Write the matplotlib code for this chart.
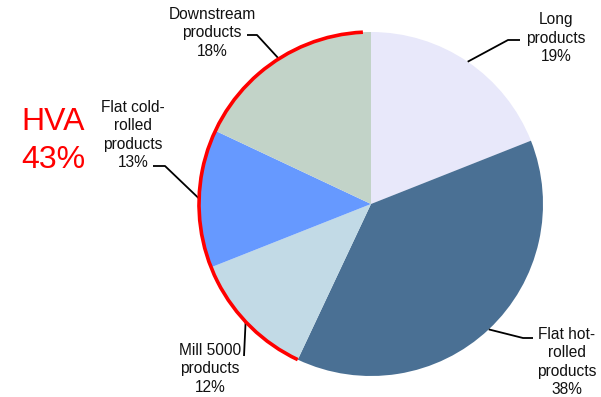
import numpy as np
import matplotlib
matplotlib.use("Agg")
import matplotlib.pyplot as plt
from matplotlib.patches import Arc

plt.rcParams['font.family'] = ['Liberation Sans', 'DejaVu Sans']

# product mix, clockwise from 12 o'clock
labels = ["Long\nproducts", "Flat hot-\nrolled\nproducts", "Mill 5000\nproducts",
          "Flat cold-\nrolled\nproducts", "Downstream\nproducts"]
shares = [19, 38, 12, 13, 18]
colors = ["#E8E8FA", "#4A7094", "#C2DAE6", "#6699FF", "#C2D3C8"]
hva_share = 43  # Mill 5000 + flat cold-rolled + downstream

W, H = 601, 397
cx, cy, R = 371, H - 204, 172

fig = plt.figure(figsize=(W / 100, H / 100), dpi=100)
ax = fig.add_axes([0, 0, 1, 1])
ax.pie(shares, colors=colors, startangle=90, counterclock=False,
       center=(cx, cy), radius=R, wedgeprops=dict(linewidth=0))
ax.set_xlim(0, W)
ax.set_ylim(0, H)
ax.set_aspect("equal")
ax.axis("off")

# red arc around the high value-added segments (counter-clockwise from near top)
end_ang = 90 + hva_share / 100 * 360
ax.add_patch(Arc((cx, cy), 2 * R, 2 * R, theta1=92.7, theta2=end_ang,
                 color="#FF0000", lw=2.6, zorder=5))

# label text anchor (center), elbow and leader end, in pixel coords from top
label_pos = [(556, 38), (567, 362), (210, 369), (133, 135), (212, 33)]
elbows = [((508, 40), (520, 40)), ((523, 338), (533, 338)),
          ((244, 356), (244, 356)), ((165, 166), (153, 166)),
          ((257, 35), (247, 35))]

cum = np.cumsum([0] + shares)
for i, lab in enumerate(labels):
    mid = 90 - (cum[i] + shares[i] / 2) / 100 * 360
    px = cx + R * np.cos(np.radians(mid))
    py = cy + R * np.sin(np.radians(mid))
    (ex, ey), (tx, ty) = elbows[i]
    ax.plot([px, ex, tx], [py, H - ey, H - ty], color="black", lw=1.3,
            solid_capstyle="butt", zorder=4)
    x, y = label_pos[i]
    ax.text(x, H - y, f"{lab}\n{shares[i]}%", ha="center", va="center",
            fontsize=11.2, linespacing=1.3, color="#111111")

ax.text(53, H - 141, f"HVA\n{hva_share}%", ha="center", va="center",
        fontsize=23, linespacing=1.35, color="#FF0000")

fig.savefig("out.png", dpi=100)
